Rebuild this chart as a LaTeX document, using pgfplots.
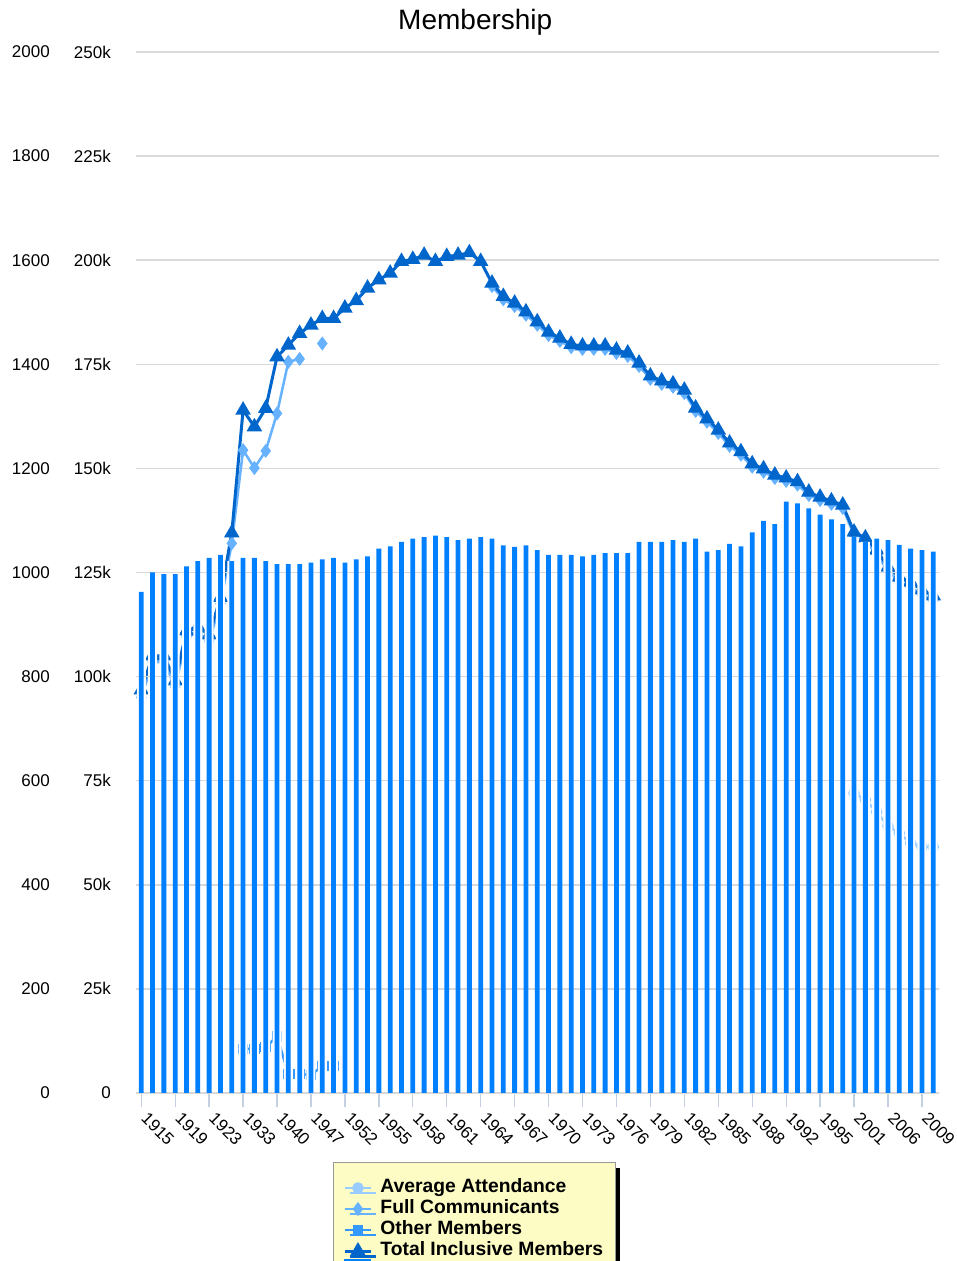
\documentclass[border=0pt]{standalone}
\usepackage{pgfplots}
\pgfplotsset{compat=1.18}
\usepackage{pgfplotstable}
\usetikzlibrary{shadows}
\usepackage{fontspec}
\setmainfont{Liberation Sans}
\definecolor{cAvg}{RGB}{153,204,255}
\definecolor{cFull}{RGB}{102,178,255}
\definecolor{cOther}{RGB}{51,153,255}
\definecolor{cTotal}{RGB}{0,102,204}
\definecolor{cBar}{RGB}{0,128,255}
\definecolor{cGrid}{RGB}{217,217,217}
\definecolor{cTick}{RGB}{195,208,226}
\definecolor{cLegend}{RGB}{252,252,196}
\pgfplotstableread{
x bars total full other avg
0 963 96.8 95.0 nan nan
1 1000 105.0 103.5 nan nan
2 997 105.0 103.5 nan nan
3 997 99.0 97.5 nan nan
4 1012 111.0 109.5 nan nan
5 1022 112.0 110.5 nan nan
6 1028 110.0 108.5 nan nan
7 1034 119.0 117.5 nan nan
8 1022 134.5 132.0 nan nan
9 1028 164.0 154.4 10.6 nan
10 1028 160.0 150.1 10.6 nan
11 1022 164.4 154.2 11.0 nan
12 1016 176.8 163.2 13.6 nan
13 1016 179.6 175.6 4.6 nan
14 1016 182.4 176.3 4.6 nan
15 1019 184.4 nan 4.3 nan
16 1025 186.0 180.0 6.5 nan
17 1028 186.0 nan 6.5 nan
18 1019 188.5 nan nan nan
19 1025 190.3 nan nan nan
20 1031 193.3 nan nan nan
21 1046 195.3 nan nan nan
22 1050 196.9 nan nan nan
23 1059 199.7 nan nan nan
24 1065 200.2 nan nan nan
25 1068 201.2 nan nan nan
26 1071 199.7 nan nan nan
27 1068 200.9 nan nan nan
28 1062 201.2 nan nan nan
29 1065 201.8 nan nan nan
30 1068 199.7 nan nan nan
31 1065 194.5 193.8 nan nan
32 1052 191.3 190.6 nan nan
33 1049 189.7 189.0 nan nan
34 1052 187.6 186.9 nan nan
35 1043 185.2 184.5 nan nan
36 1034 182.7 182.0 nan nan
37 1034 181.3 180.6 nan nan
38 1034 179.8 179.1 nan nan
39 1031 179.4 178.7 nan nan
40 1034 179.4 178.7 nan nan
41 1037 179.4 178.7 nan nan
42 1037 178.4 177.7 nan nan
43 1037 177.7 177.0 nan nan
44 1059 175.3 174.6 nan nan
45 1059 172.2 171.5 nan nan
46 1059 171.0 170.3 nan nan
47 1062 170.3 169.6 nan nan
48 1059 168.8 168.1 nan nan
49 1065 164.5 163.8 nan nan
50 1040 161.9 161.2 nan nan
51 1043 159.2 158.5 nan nan
52 1055 156.1 155.4 nan nan
53 1050 154.0 153.3 nan nan
54 1077 151.1 150.4 nan nan
55 1099 149.9 149.2 nan nan
56 1093 148.4 147.7 nan nan
57 1136 147.7 147.0 nan nan
58 1133 146.8 146.1 nan nan
59 1123 144.3 143.6 nan nan
60 1111 143.1 142.4 nan nan
61 1102 142.2 141.5 nan nan
62 1093 141.2 140.5 nan nan
63 1068 134.7 134.0 nan 72.0
64 1059 133.3 132.6 nan 70.4
65 1065 130.4 129.4 nan 67.5
66 1062 126.3 125.3 nan 64.1
67 1053 123.9 122.9 nan 62.4
68 1046 122.7 121.5 nan 60.0
69 1043 120.8 119.6 nan 59.1
70 1040 119.4 118.2 nan 59.1
}\data
\pgfplotsset{
  frame/.style={at={(135.6pt,168pt)}, anchor=south west,
    scale only axis, width=803.3pt, height=1041pt, xmin=-0.5, xmax=70.5},
  bare/.style={frame, axis line style={draw=none}, xtick=\empty,
    tick style={draw=none}, yticklabels={}},
}
\begin{document}
\begin{tikzpicture}
\path[use as bounding box] (0pt,0pt) rectangle (956pt,1261pt);
\clip (0pt,0pt) rectangle (956pt,1261pt);
% left-most scale (0-2000), labels only
\begin{axis}[
  frame, ymin=0, ymax=2000,
  axis x line=none, axis y line*=left,
  y axis line style={draw=none},
  ytick={0,200,...,2000},
  yticklabels={0,200,400,600,800,1000,1200,1400,1600,1800,2000},
  y tick style={draw=none},
  yticklabel style={anchor=east, inner sep=0pt, xshift=-85.6pt, font=\fontsize{17}{20}\selectfont},
]
\end{axis}
% membership lines (0-250k scale)
\begin{axis}[
  frame, ymin=0, ymax=250,
  clip=false,
  axis x line*=bottom, axis y line*=left,
  x axis line style={draw=cGrid, line width=1.5pt, -},
  y axis line style={draw=none},
  tick align=outside,
  xtick={0,3,...,69},
  xticklabels={1915,1919,1923,1933,1940,1947,1952,1955,1958,1961,1964,1967,1970,1973,1976,1979,1982,1985,1988,1992,1995,2001,2006,2009},
  x tick style={draw=cTick, line width=1.3pt},
  major tick length=14pt,
  xticklabel style={anchor=north west, inner sep=0pt, font=\fontsize{17}{20}\selectfont, xshift=7.5pt, yshift=-4pt, rotate=-45},
  ytick={0,25,...,250},
  yticklabels={0,25k,50k,75k,100k,125k,150k,175k,200k,225k,250k},
  y tick style={draw=none},
  yticklabel style={anchor=east, inner sep=0pt, xshift=-10.6pt, font=\fontsize{17}{20}\selectfont},
  ymajorgrids, grid style={draw=cGrid, line width=1.5pt},
  title=Membership,
  title style={at={(0.5,1)}, anchor=base, xshift=-62pt, yshift=16pt, font=\fontsize{28}{32}\selectfont},
  unbounded coords=jump,
  legend cell align=left,
  legend image code/.code={\draw[mark repeat=2,mark phase=2] plot coordinates {(0pt,0pt) (13pt,0pt) (26pt,0pt)};},
  legend style={
    at={(0.2457,-0.0663)}, anchor=north west,
    fill=cLegend, draw=black!40, line width=1pt,
    font=\bfseries\fontsize{19.3}{21}\selectfont,
    inner xsep=10pt, inner ysep=15pt, row sep=0pt, column sep=6pt,
    nodes={text height=13pt, text depth=4pt, inner sep=2pt},
    drop shadow={shadow xshift=5pt, shadow yshift=-5pt, fill=black, opacity=1},
  },
]
\addplot[cAvg, line width=2.5pt, mark=*, mark size=4.5pt, mark options={solid, fill=cAvg, draw=cAvg}] table[x=x, y=avg] {\data};
\addlegendentry{Average Attendance}
\addplot[cFull, line width=2.5pt, mark=diamond*, mark size=5pt, mark options={solid, fill=cFull, draw=cFull}] table[x=x, y=full] {\data};
\addlegendentry{Full Communicants}
\addplot[cOther, line width=2.5pt, mark=square*, mark size=4pt, mark options={solid, fill=cOther, draw=cOther}] table[x=x, y=other] {\data};
\addlegendentry{Other Members}
\addplot[cTotal, line width=3pt, mark=triangle*, mark size=6pt, mark options={solid, fill=cTotal, draw=cTotal}] table[x=x, y=total] {\data};
\addlegendentry{Total Inclusive Members}
\addlegendimage{legend image code/.code={\fill[cBar, overlay] (0pt,-13pt) rectangle (26pt,13pt);}}
\addlegendentry{}
\end{axis}
% white margins round the bars (they hide the lines behind the bars)
\begin{axis}[bare, ymin=0, ymax=2000, ytick=\empty]
\addplot[ybar, bar width=9pt, fill=white, draw=none] table[x=x, y=bars] {\data};
\end{axis}
% grid lines redrawn between the bars
\begin{axis}[bare, ymin=0, ymax=250, ytick={0,25,...,125},
  ymajorgrids, grid style={draw=cGrid, line width=1.5pt}]
\end{axis}
% bars (0-2000 scale), over the lines as in the original
\begin{axis}[bare, ymin=0, ymax=2000, ytick=\empty]
\addplot[ybar, bar width=4.8pt, fill=cBar, draw=none] table[x=x, y=bars] {\data};
\end{axis}
\end{tikzpicture}
\end{document}
